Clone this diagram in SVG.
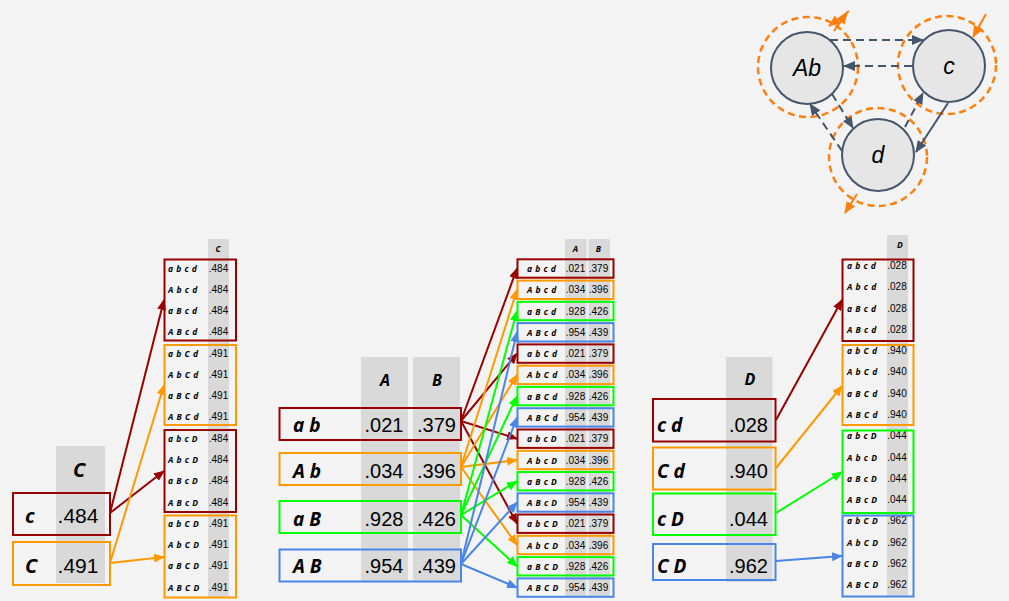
<svg xmlns="http://www.w3.org/2000/svg" width="1009" height="601" viewBox="0 0 1009 601">
<style>
.lab{font-family:"Open Sans","DejaVu Sans",sans-serif;font-weight:bold;font-style:italic;fill:#000}
.num{font-family:"Liberation Sans",Arial,sans-serif;fill:#000}
.col{fill:#d9d9d9}
.box{fill:none;stroke-width:2}
.dr{stroke:#990000}.or{stroke:#ff9900}.gr{stroke:#00ff00}.bl{stroke:#4a86e8}
.s{font-size:8.5px;word-spacing:1px}
.sn{font-size:10px;text-anchor:middle}
.node{fill:#e6e6e6;stroke:#45556c;stroke-width:2}
.nt{font-family:"Liberation Sans",Arial,sans-serif;font-style:italic;font-size:23px;text-anchor:middle;fill:#000}
.halo{fill:none;stroke:#ff7f0e;stroke-width:2.5;stroke-dasharray:7 4.5}
.e{fill:none;stroke:#45556c;stroke-width:2}
.dash{stroke-dasharray:8 5}
.ln{fill:none;stroke-width:2}
.oa{fill:none;stroke:#ff7f0e;stroke-width:2}
</style>
<defs>
<marker id="mdr" markerUnits="userSpaceOnUse" markerWidth="11" markerHeight="9" refX="10" refY="4.5" orient="auto"><path d="M0,0 L11,4.5 L0,9 z" fill="#990000"/></marker>
<marker id="mor" markerUnits="userSpaceOnUse" markerWidth="11" markerHeight="9" refX="10" refY="4.5" orient="auto"><path d="M0,0 L11,4.5 L0,9 z" fill="#ff9900"/></marker>
<marker id="mgr" markerUnits="userSpaceOnUse" markerWidth="11" markerHeight="9" refX="10" refY="4.5" orient="auto"><path d="M0,0 L11,4.5 L0,9 z" fill="#00ff00"/></marker>
<marker id="mbl" markerUnits="userSpaceOnUse" markerWidth="11" markerHeight="9" refX="10" refY="4.5" orient="auto"><path d="M0,0 L11,4.5 L0,9 z" fill="#4a86e8"/></marker>
<marker id="msl" markerUnits="userSpaceOnUse" markerWidth="12" markerHeight="10" refX="11" refY="5" orient="auto"><path d="M0,0 L12,5 L0,10 z" fill="#45556c"/></marker>
<marker id="mo" markerUnits="userSpaceOnUse" markerWidth="12" markerHeight="10" refX="11" refY="5" orient="auto"><path d="M0,0 L12,5 L0,10 z" fill="#ff7f0e"/></marker>
</defs>
<rect width="1009" height="601" fill="#f3f3f3"/>

<!-- Top graph -->
<g id="halos">
<circle class="halo" cx="808" cy="67" r="50"/>
<circle class="halo" cx="947" cy="65" r="49"/>
<circle class="halo" cx="878" cy="157" r="49"/>
</g>
<g id="node-Ab"><circle class="node" cx="807" cy="68" r="36"/><text class="nt" x="807" y="76">Ab</text></g>
<g id="node-c"><circle class="node" cx="949" cy="66" r="36"/><text class="nt" x="949" y="74">c</text></g>
<g id="node-d"><circle class="node" cx="878" cy="155" r="36"/><text class="nt" x="878" y="163">d</text></g>

<!-- Table: c -->
<g id="table-c">
<rect class="col" x="56" y="446" width="49" height="137"/>
<text class="lab" x="79" y="477" font-size="20" text-anchor="middle">C</text>
<rect class="box dr" x="13" y="493" width="97" height="42"/>
<text class="lab" x="25" y="523" font-size="20">c</text>
<text class="num" x="78" y="523" font-size="21" text-anchor="middle">.484</text>
<rect class="box or" x="13" y="542" width="97" height="43"/>
<text class="lab" x="25" y="573" font-size="20">C</text>
<text class="num" x="78" y="573" font-size="21" text-anchor="middle">.491</text>
</g>

<!-- Stacked table left -->
<g id="stack-c">
<rect class="col" x="208" y="239" width="21" height="358"/>
<text class="lab" x="218" y="252" font-size="8.5" text-anchor="middle">C</text>
<g class="lab s">
<text x="168" y="271.5">a b c d</text><text x="168" y="292.8">A b c d</text><text x="168" y="314">a B c d</text><text x="168" y="335.3">A B c d</text>
<text x="168" y="356.6">a b C d</text><text x="168" y="377.9">A b C d</text><text x="168" y="399.1">a B C d</text><text x="168" y="420.4">A B C d</text>
<text x="168" y="441.7">a b c D</text><text x="168" y="463">A b c D</text><text x="168" y="484.2">a B c D</text><text x="168" y="505.5">A B c D</text>
<text x="168" y="526.8">a b C D</text><text x="168" y="548">A b C D</text><text x="168" y="569.3">a B C D</text><text x="168" y="590.6">A B C D</text>
</g>
<g class="num sn">
<text x="218.5" y="271.5">.484</text><text x="218.5" y="292.8">.484</text><text x="218.5" y="314">.484</text><text x="218.5" y="335.3">.484</text>
<text x="218.5" y="356.6">.491</text><text x="218.5" y="377.9">.491</text><text x="218.5" y="399.1">.491</text><text x="218.5" y="420.4">.491</text>
<text x="218.5" y="441.7">.484</text><text x="218.5" y="463">.484</text><text x="218.5" y="484.2">.484</text><text x="218.5" y="505.5">.484</text>
<text x="218.5" y="526.8">.491</text><text x="218.5" y="548">.491</text><text x="218.5" y="569.3">.491</text><text x="218.5" y="590.6">.491</text>
</g>
<rect class="box dr" x="164.5" y="259.5" width="71.5" height="81"/>
<rect class="box or" x="164.5" y="345" width="71.5" height="80"/>
<rect class="box dr" x="164.5" y="430" width="71.5" height="82"/>
<rect class="box or" x="164.5" y="515.5" width="71.5" height="82"/>
</g>

<!-- Table: ab -->
<g id="table-ab">
<rect class="col" x="361" y="357" width="47" height="224"/>
<rect class="col" x="413" y="357" width="47" height="224"/>
<text class="lab" x="385" y="386" font-size="16" text-anchor="middle">A</text>
<text class="lab" x="437" y="386" font-size="16" text-anchor="middle">B</text>
<rect class="box dr" x="279.5" y="408" width="181.5" height="32"/>
<rect class="box or" x="279.5" y="453" width="181.5" height="32"/>
<rect class="box gr" x="279.5" y="501" width="181.5" height="32"/>
<rect class="box bl" x="279.5" y="549.5" width="181.5" height="32"/>
<g class="lab" font-size="19">
<text x="293" y="432">a b</text><text x="293" y="478">A b</text><text x="293" y="526">a B</text><text x="293" y="573">A B</text>
</g>
<g class="num" font-size="20" text-anchor="middle">
<text x="384" y="432">.021</text><text x="436.5" y="432">.379</text>
<text x="384" y="478">.034</text><text x="436.5" y="478">.396</text>
<text x="384" y="526">.928</text><text x="436.5" y="526">.426</text>
<text x="384" y="573">.954</text><text x="436.5" y="573">.439</text>
</g>
</g>

<!-- Stacked table middle -->
<g id="stack-ab">
<rect class="col" x="565" y="239" width="21.5" height="358"/>
<rect class="col" x="588.5" y="239" width="21.5" height="358"/>
<text class="lab" x="575.5" y="252" font-size="8.5" text-anchor="middle">A</text>
<text class="lab" x="598.5" y="252" font-size="8.5" text-anchor="middle">B</text>
<g class="lab s">
<text x="527" y="272">a b c d</text><text x="527" y="293.3">A b c d</text><text x="527" y="314.5">a B c d</text><text x="527" y="335.8">A B c d</text>
<text x="527" y="357.1">a b C d</text><text x="527" y="378.4">A b C d</text><text x="527" y="399.6">a B C d</text><text x="527" y="420.9">A B C d</text>
<text x="527" y="442.2">a b c D</text><text x="527" y="463.5">A b c D</text><text x="527" y="484.7">a B c D</text><text x="527" y="506">A B c D</text>
<text x="527" y="527.2">a b C D</text><text x="527" y="548.5">A b C D</text><text x="527" y="569.8">a B C D</text><text x="527" y="591.1">A B C D</text>
</g>
<g class="num sn">
<text x="575.5" y="272">.021</text><text x="598.5" y="272">.379</text>
<text x="575.5" y="293.3">.034</text><text x="598.5" y="293.3">.396</text>
<text x="575.5" y="314.5">.928</text><text x="598.5" y="314.5">.426</text>
<text x="575.5" y="335.8">.954</text><text x="598.5" y="335.8">.439</text>
<text x="575.5" y="357.1">.021</text><text x="598.5" y="357.1">.379</text>
<text x="575.5" y="378.4">.034</text><text x="598.5" y="378.4">.396</text>
<text x="575.5" y="399.6">.928</text><text x="598.5" y="399.6">.426</text>
<text x="575.5" y="420.9">.954</text><text x="598.5" y="420.9">.439</text>
<text x="575.5" y="442.2">.021</text><text x="598.5" y="442.2">.379</text>
<text x="575.5" y="463.5">.034</text><text x="598.5" y="463.5">.396</text>
<text x="575.5" y="484.7">.928</text><text x="598.5" y="484.7">.426</text>
<text x="575.5" y="506">.954</text><text x="598.5" y="506">.439</text>
<text x="575.5" y="527.2">.021</text><text x="598.5" y="527.2">.379</text>
<text x="575.5" y="548.5">.034</text><text x="598.5" y="548.5">.396</text>
<text x="575.5" y="569.8">.928</text><text x="598.5" y="569.8">.426</text>
<text x="575.5" y="591.1">.954</text><text x="598.5" y="591.1">.439</text>
</g>
<rect class="box dr" x="517.5" y="259.3" width="96" height="18.4"/>
<rect class="box or" x="517.5" y="280.6" width="96" height="18.4"/>
<rect class="box gr" x="517.5" y="301.8" width="96" height="18.4"/>
<rect class="box bl" x="517.5" y="323.1" width="96" height="18.4"/>
<rect class="box dr" x="517.5" y="344.4" width="96" height="18.4"/>
<rect class="box or" x="517.5" y="365.7" width="96" height="18.4"/>
<rect class="box gr" x="517.5" y="386.9" width="96" height="18.4"/>
<rect class="box bl" x="517.5" y="408.2" width="96" height="18.4"/>
<rect class="box dr" x="517.5" y="429.5" width="96" height="18.4"/>
<rect class="box or" x="517.5" y="450.8" width="96" height="18.4"/>
<rect class="box gr" x="517.5" y="472" width="96" height="18.4"/>
<rect class="box bl" x="517.5" y="493.3" width="96" height="18.4"/>
<rect class="box dr" x="517.5" y="514.5" width="96" height="18.4"/>
<rect class="box or" x="517.5" y="535.8" width="96" height="18.4"/>
<rect class="box gr" x="517.5" y="557.1" width="96" height="18.4"/>
<rect class="box bl" x="517.5" y="578.4" width="96" height="18.4"/>
</g>

<!-- Table: cd -->
<g id="table-cd">
<rect class="col" x="726" y="357" width="46.5" height="225"/>
<text class="lab" x="750" y="385" font-size="16" text-anchor="middle">D</text>
<rect class="box dr" x="653" y="399" width="122.5" height="42.5"/>
<rect class="box or" x="653" y="447.5" width="122.5" height="42"/>
<rect class="box gr" x="653" y="493.5" width="122.5" height="41.5"/>
<rect class="box bl" x="653" y="544" width="122.5" height="36"/>
<g class="lab" font-size="19">
<text x="657" y="432">c d</text><text x="657" y="478">C d</text><text x="657" y="526">c D</text><text x="657" y="573">C D</text>
</g>
<g class="num" font-size="20" text-anchor="middle">
<text x="748.5" y="432">.028</text><text x="748.5" y="478">.940</text><text x="748.5" y="526">.044</text><text x="748.5" y="573">.962</text>
</g>
</g>

<!-- Stacked table right -->
<g id="stack-cd">
<rect class="col" x="887" y="235" width="21" height="362"/>
<text class="lab" x="900" y="248" font-size="8.5" text-anchor="middle">D</text>
<g class="lab s">
<text x="847" y="269">a b c d</text><text x="847" y="290.3">A b c d</text><text x="847" y="311.5">a B c d</text><text x="847" y="332.8">A B c d</text>
<text x="847" y="354.1">a b C d</text><text x="847" y="375.4">A b C d</text><text x="847" y="396.6">a B C d</text><text x="847" y="417.9">A B C d</text>
<text x="847" y="439.2">a b c D</text><text x="847" y="460.5">A b c D</text><text x="847" y="481.7">a B c D</text><text x="847" y="503">A B c D</text>
<text x="847" y="524.2">a b C D</text><text x="847" y="545.5">A b C D</text><text x="847" y="566.8">a B C D</text><text x="847" y="588.1">A B C D</text>
</g>
<g class="num sn">
<text x="897" y="269">.028</text><text x="897" y="290.3">.028</text><text x="897" y="311.5">.028</text><text x="897" y="332.8">.028</text>
<text x="897" y="354.1">.940</text><text x="897" y="375.4">.940</text><text x="897" y="396.6">.940</text><text x="897" y="417.9">.940</text>
<text x="897" y="439.2">.044</text><text x="897" y="460.5">.044</text><text x="897" y="481.7">.044</text><text x="897" y="503">.044</text>
<text x="897" y="524.2">.962</text><text x="897" y="545.5">.962</text><text x="897" y="566.8">.962</text><text x="897" y="588.1">.962</text>
</g>
<rect class="box dr" x="842.5" y="259.5" width="71" height="81.5"/>
<rect class="box or" x="842.5" y="345" width="71" height="80"/>
<rect class="box gr" x="842.5" y="430.5" width="71" height="82.5"/>
<rect class="box bl" x="842.5" y="515.5" width="71" height="81"/>
</g>

<!-- Connectors -->
<g id="connectors">
<line class="e dash" x1="830" y1="40" x2="923" y2="40" marker-end="url(#msl)"/>
<line class="e dash" x1="912" y1="66" x2="844" y2="66" marker-end="url(#msl)"/>
<line class="e dash" x1="832" y1="94" x2="853" y2="128" marker-end="url(#msl)"/>
<line class="e dash" x1="842" y1="151" x2="810" y2="104" marker-end="url(#msl)"/>
<line class="e dash" x1="905" y1="127" x2="923" y2="93" marker-end="url(#msl)"/>
<line class="e" x1="948" y1="103" x2="916" y2="152" marker-end="url(#msl)"/>
<line class="oa" x1="986" y1="14" x2="973" y2="37" marker-end="url(#mo)"/>
<line class="oa" x1="857" y1="194" x2="845" y2="213" marker-end="url(#mo)"/>
<line class="oa" x1="849" y1="11" x2="829" y2="26" marker-end="url(#mo)"/>
<line class="oa" x1="834" y1="31" x2="847" y2="13" marker-end="url(#mo)"/>

<line class="ln dr" x1="110" y1="513" x2="164" y2="300" marker-end="url(#mdr)"/>
<line class="ln dr" x1="110" y1="513" x2="164" y2="471" marker-end="url(#mdr)"/>
<line class="ln or" x1="110" y1="563" x2="164" y2="385" marker-end="url(#mor)"/>
<line class="ln or" x1="110" y1="563" x2="164" y2="557" marker-end="url(#mor)"/>

<line class="ln dr" x1="461" y1="421" x2="517" y2="268.5" marker-end="url(#mdr)"/>
<line class="ln dr" x1="461" y1="421" x2="517" y2="353.6" marker-end="url(#mdr)"/>
<line class="ln dr" x1="461" y1="421" x2="517" y2="438.7" marker-end="url(#mdr)"/>
<line class="ln dr" x1="461" y1="421" x2="517" y2="523.7" marker-end="url(#mdr)"/>
<line class="ln or" x1="461" y1="467" x2="517" y2="289.8" marker-end="url(#mor)"/>
<line class="ln or" x1="461" y1="467" x2="517" y2="374.9" marker-end="url(#mor)"/>
<line class="ln or" x1="461" y1="467" x2="517" y2="460" marker-end="url(#mor)"/>
<line class="ln or" x1="461" y1="467" x2="517" y2="545" marker-end="url(#mor)"/>
<line class="ln gr" x1="461" y1="515" x2="517" y2="311" marker-end="url(#mgr)"/>
<line class="ln gr" x1="461" y1="515" x2="517" y2="396.1" marker-end="url(#mgr)"/>
<line class="ln gr" x1="461" y1="515" x2="517" y2="481.2" marker-end="url(#mgr)"/>
<line class="ln gr" x1="461" y1="515" x2="517" y2="566.3" marker-end="url(#mgr)"/>
<line class="ln bl" x1="461" y1="564" x2="517" y2="332.3" marker-end="url(#mbl)"/>
<line class="ln bl" x1="461" y1="564" x2="517" y2="417.4" marker-end="url(#mbl)"/>
<line class="ln bl" x1="461" y1="564" x2="517" y2="502.5" marker-end="url(#mbl)"/>
<line class="ln bl" x1="461" y1="564" x2="517" y2="587.6" marker-end="url(#mbl)"/>

<line class="ln dr" x1="776" y1="420" x2="842" y2="300" marker-end="url(#mdr)"/>
<line class="ln or" x1="776" y1="468" x2="842" y2="386" marker-end="url(#mor)"/>
<line class="ln gr" x1="776" y1="513" x2="842" y2="472" marker-end="url(#mgr)"/>
<line class="ln bl" x1="776" y1="561" x2="842" y2="556" marker-end="url(#mbl)"/>
</g>
</svg>
